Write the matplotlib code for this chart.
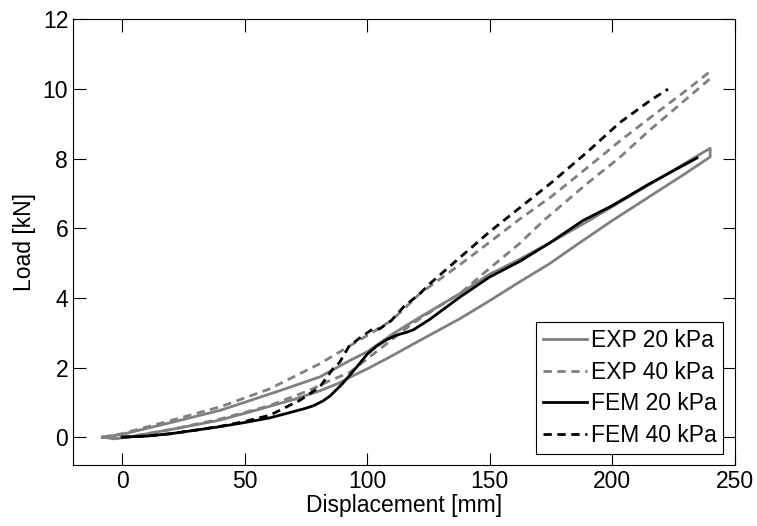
import numpy as np
import matplotlib.pyplot as plt

plt.rcParams['font.family'] = ['Liberation Sans', 'DejaVu Sans']

# EXP 20 kPa - hysteresis loop (upper branch, then return branch)
exp20_x = [-8, 0, 20, 40, 50, 65, 80.7, 92.9, 100, 110.6, 120, 137.8, 150, 162, 175, 190, 200, 215, 230, 240,
           240, 230, 215, 200, 185, 174.4, 162, 150, 137.8, 120, 109.2, 100, 92.9, 88.8, 80.7, 70, 56, 40, 20, 5, -3, -8]
exp20_y = [0, 0.08, 0.42, 0.77, 1.0, 1.35, 1.73, 2.2, 2.45, 2.97, 3.38, 4.12, 4.68, 5.1, 5.6, 6.2, 6.62, 7.25, 7.88, 8.3,
           8.05, 7.58, 6.9, 6.22, 5.5, 4.98, 4.45, 3.92, 3.4, 2.72, 2.3, 1.96, 1.72, 1.56, 1.33, 1.08, 0.8, 0.49, 0.22, 0.03, -0.05, 0]

# EXP 40 kPa
exp40_x = [-8, 0, 20, 40, 60, 80.7, 92.9, 100, 110, 121.5, 137.8, 150, 162, 175, 190, 203, 215, 230, 239,
           240, 230, 215, 203, 190, 172, 162, 150, 137.8, 131, 118.6, 105, 92.9, 84.7, 76.6, 60, 40, 20, 0, -8]
exp40_y = [0, 0.1, 0.48, 0.87, 1.38, 2.11, 2.62, 2.92, 3.35, 4.12, 4.95, 5.6, 6.25, 6.9, 7.75, 8.5, 9.15, 9.95, 10.45,
           10.3, 9.7, 8.8, 8.03, 7.3, 6.22, 5.55, 4.85, 4.12, 3.83, 3.27, 2.52, 1.86, 1.62, 1.35, 0.9, 0.52, 0.22, -0.02, 0]

# FEM 20 kPa
fem20_x = [0, 10, 20, 30, 39.9, 50, 60, 67.1, 75, 78, 82, 85, 88, 90, 95, 100, 104, 108, 112, 116, 118.8, 125.5,
           137.8, 150, 162.3, 175, 188, 200, 215, 234.6]
fem20_y = [0, 0.03, 0.1, 0.2, 0.3, 0.42, 0.55, 0.68, 0.83, 0.9, 1.04, 1.19, 1.4, 1.54, 1.95, 2.38, 2.62, 2.8, 2.93, 3.01, 3.08, 3.38,
           4.02, 4.6, 5.05, 5.6, 6.22, 6.65, 7.27, 8.02]

# FEM 40 kPa
fem40_x = [0, 10, 20, 30, 40, 50, 60.3, 72.6, 80.7, 86.1, 88.8, 92.5, 97, 102.4, 105.1, 109.9, 115, 121.5, 125.5,
           136.4, 150, 158.2, 175, 190, 203, 215.3, 222.8]
fem40_y = [0, 0.03, 0.1, 0.2, 0.31, 0.45, 0.63, 1.06, 1.44, 1.97, 2.15, 2.6, 2.85, 3.11, 3.11, 3.35, 3.75, 4.12, 4.4,
           5.07, 5.9, 6.36, 7.3, 8.2, 9.03, 9.66, 10.0]

gray = '#808080'
dash = (0, (3, 2))

fig = plt.figure(figsize=(7.57, 5.26), dpi=100)
ax = fig.add_axes([0.0965, 0.116, 0.874, 0.847])

ax.plot(exp20_x, exp20_y, color=gray, lw=2, label='EXP 20 kPa')
ax.plot(exp40_x, exp40_y, color=gray, lw=2, ls=dash, label='EXP 40 kPa')
ax.plot(fem20_x, fem20_y, color='black', lw=2, label='FEM 20 kPa')
ax.plot(fem40_x, fem40_y, color='black', lw=2, ls=dash, label='FEM 40 kPa')

ax.set_xlim(-20, 250)
ax.set_ylim(-0.8, 12)
ax.set_xticks([0, 50, 100, 150, 200, 250])
ax.set_yticks([0, 2, 4, 6, 8, 10, 12])
ax.tick_params(direction='in', length=9, width=0.8, top=True, right=True, labelsize=16.5)
ax.set_xlabel('Displacement [mm]', fontsize=16.5, labelpad=1)
ax.set_ylabel('Load [kN]', fontsize=16.5, labelpad=5)

leg = ax.legend(loc='lower right', fontsize=16.5, fancybox=False, edgecolor='black',
                framealpha=1, handlelength=1.9, handletextpad=0.17, labelspacing=0.37,
                borderaxespad=0.5, borderpad=0.3)
leg.get_frame().set_linewidth(0.8)

fig.savefig('out.png', dpi=100)
